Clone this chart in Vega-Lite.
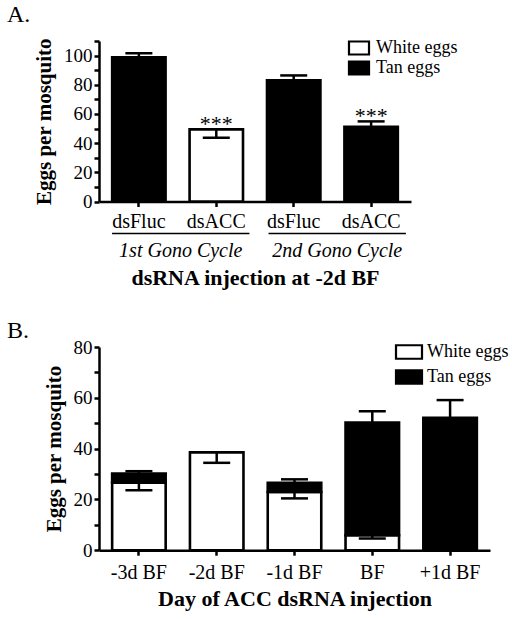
{
  "$schema": "https://vega.github.io/schema/vega-lite/v6.json",
  "padding": {"left": 7, "top": 3, "right": 5, "bottom": 5},
  "background": "white",
  "config": {
    "font": "Liberation Serif",
    "view": {"stroke": null},
    "axis": {"domainColor": "black", "domainWidth": 2.5, "tickColor": "black", "tickWidth": 2.5, "labelColor": "black", "titleColor": "black", "labelFont": "Liberation Serif", "titleFont": "Liberation Serif", "grid": false, "titleFontWeight": "bold", "labelOverlap": false},
    "axisX": {"labelAngle": 0, "tickSize": 5, "labelFontSize": 20, "titleFontSize": 22},
    "axisY": {"tickSize": 5, "labelPadding": 2, "labelFontSize": 19, "titleFontSize": 21, "titlePadding": 9, "labelExpr": "datum.value % 20 == 0 ? datum.label : ''"},
    "title": {"font": "Liberation Serif", "fontSize": 24, "fontWeight": "normal", "color": "black", "anchor": "start", "frame": "group", "dx": -92, "baseline": "alphabetic"}
  },
  "datasets": {
    "barsA": [
      {"group": "dsFluc 1", "type": "Tan eggs", "eggs": 98.8},
      {"group": "dsACC 1", "type": "White eggs", "eggs": 49.4},
      {"group": "dsFluc 2", "type": "Tan eggs", "eggs": 83.0},
      {"group": "dsACC 2", "type": "Tan eggs", "eggs": 51.2}
    ],
    "errA": [
      {"group": "dsFluc 1", "mean": 98.8, "bound": 101.6},
      {"group": "dsACC 1", "mean": 49.4, "bound": 43.7},
      {"group": "dsFluc 2", "mean": 83.0, "bound": 86.4},
      {"group": "dsACC 2", "mean": 51.2, "bound": 54.9}
    ],
    "starsA": [
      {"group": "dsACC 1", "label": "***", "y": 49.4},
      {"group": "dsACC 2", "label": "***", "y": 54.9}
    ],
    "cyclesA": [
      {"cycle": "1st Gono Cycle"},
      {"cycle": "2nd Gono Cycle"}
    ],
    "barsB": [
      {"day": "-3d BF", "type": "White eggs", "eggs": 26.6},
      {"day": "-3d BF", "type": "Tan eggs", "eggs": 3.6},
      {"day": "-2d BF", "type": "White eggs", "eggs": 38.5},
      {"day": "-1d BF", "type": "White eggs", "eggs": 22.9},
      {"day": "-1d BF", "type": "Tan eggs", "eggs": 3.6},
      {"day": "BF", "type": "White eggs", "eggs": 5.9},
      {"day": "BF", "type": "Tan eggs", "eggs": 44.4},
      {"day": "+1d BF", "type": "Tan eggs", "eggs": 52.1}
    ],
    "errB": [
      {"day": "-3d BF", "mean": 26.6, "bound": 23.6},
      {"day": "-3d BF", "mean": 30.2, "bound": 31.1},
      {"day": "-2d BF", "mean": 38.5, "bound": 34.4},
      {"day": "-1d BF", "mean": 22.9, "bound": 20.4},
      {"day": "-1d BF", "mean": 26.5, "bound": 27.9},
      {"day": "BF", "mean": 5.9, "bound": 4.6},
      {"day": "BF", "mean": 50.3, "bound": 54.7},
      {"day": "+1d BF", "mean": 52.1, "bound": 59.1}
    ]
  },
  "spacing": 30,
  "resolve": {"scale": {"color": "independent"}, "legend": {"color": "independent"}},
  "vconcat": [
    {
      "width": 312,
      "height": 160.5,
      "title": {"text": "A.", "offset": 5},
      "resolve": {"scale": {"x": "independent"}},
      "layer": [
        {
          "layer": [
            {
              "data": {"name": "barsA"},
              "mark": {"type": "bar", "stroke": "black", "strokeWidth": 2.6},
              "encoding": {
                "x": {"field": "group", "type": "nominal", "title": "dsRNA injection at -2d BF",
                  "scale": {"domain": ["dsFluc 1", "dsACC 1", "dsFluc 2", "dsACC 2"], "paddingInner": 0.31, "paddingOuter": 0.17},
                  "axis": {"labelExpr": "split(datum.label, ' ')[0]", "labelPadding": 5, "titlePadding": 36}},
                "y": {"field": "eggs", "type": "quantitative", "stack": "zero", "title": "Eggs per mosquito",
                  "scale": {"domain": [0, 110], "nice": false},
                  "axis": {"values": [0, 10, 20, 30, 40, 50, 60, 70, 80, 90, 100, 110]}},
                "color": {"field": "type", "type": "nominal",
                  "scale": {"domain": ["White eggs", "Tan eggs"], "range": ["white", "black"]},
                  "legend": {"orient": "none", "legendX": 251, "legendY": -2, "title": null, "padding": 0,
                    "symbolType": "M-1.54,-1H1.54V1H-1.54Z", "symbolSize": 169, "symbolStrokeColor": "black", "symbolStrokeWidth": 2.2,
                    "labelFont": "Liberation Serif", "labelFontSize": 18, "labelColor": "black", "labelOffset": 8, "rowPadding": -5.4}},
                "order": {"field": "type", "sort": "descending"}
              }
            },
            {
              "data": {"name": "errA"},
              "mark": {"type": "rule", "color": "black", "strokeWidth": 2.5},
              "encoding": {
                "x": {"field": "group", "type": "nominal", "title": "dsRNA injection at -2d BF"},
                "y": {"field": "mean", "type": "quantitative", "title": "Eggs per mosquito", "axis": {"values": [0, 10, 20, 30, 40, 50, 60, 70, 80, 90, 100, 110]}},
                "y2": {"field": "bound"}
              }
            },
            {
              "data": {"name": "errA"},
              "mark": {"type": "tick", "color": "black", "opacity": 1, "size": 27, "thickness": 2.5},
              "encoding": {
                "x": {"field": "group", "type": "nominal", "title": "dsRNA injection at -2d BF"},
                "y": {"field": "bound", "type": "quantitative", "title": "Eggs per mosquito", "axis": {"values": [0, 10, 20, 30, 40, 50, 60, 70, 80, 90, 100, 110]}}
              }
            },
            {
              "data": {"name": "starsA"},
              "mark": {"type": "text", "font": "Liberation Serif", "fontSize": 22, "baseline": "alphabetic", "dy": 2, "color": "black"},
              "encoding": {
                "x": {"field": "group", "type": "nominal", "title": "dsRNA injection at -2d BF"},
                "y": {"field": "y", "type": "quantitative", "title": "Eggs per mosquito", "axis": {"values": [0, 10, 20, 30, 40, 50, 60, 70, 80, 90, 100, 110]}},
                "text": {"field": "label"}
              }
            }
          ]
        },
        {
          "data": {"name": "cyclesA"},
          "layer": [
            {
              "mark": {"type": "bar", "color": "black"},
              "encoding": {
                "x": {"field": "cycle", "type": "nominal", "axis": null,
                  "scale": {"paddingInner": 0.122, "paddingOuter": 0.058, "align": 0.72}},
                "y": {"datum": -21.4, "type": "quantitative", "title": "Eggs per mosquito", "axis": {"values": [0, 10, 20, 30, 40, 50, 60, 70, 80, 90, 100, 110]}},
                "y2": {"datum": -22.5}
              }
            },
            {
              "mark": {"type": "text", "font": "Liberation Serif", "fontSize": 20, "fontStyle": "italic", "baseline": "alphabetic", "color": "black"},
              "encoding": {
                "x": {"field": "cycle", "type": "nominal", "axis": null},
                "y": {"datum": -38, "type": "quantitative", "title": "Eggs per mosquito", "axis": {"values": [0, 10, 20, 30, 40, 50, 60, 70, 80, 90, 100, 110]}},
                "text": {"field": "cycle"}
              }
            }
          ]
        }
      ]
    },
    {
      "width": 391,
      "height": 203.2,
      "title": {"text": "B.", "offset": -5},
      "layer": [
        {
          "data": {"name": "barsB"},
          "mark": {"type": "bar", "stroke": "black", "strokeWidth": 2.6},
          "encoding": {
            "x": {"field": "day", "type": "nominal", "title": "Day of ACC dsRNA injection",
              "scale": {"domain": ["-3d BF", "-2d BF", "-1d BF", "BF", "+1d BF"], "paddingInner": 0.312, "paddingOuter": 0.169},
              "axis": {"labelPadding": 7.5, "titlePadding": 6}},
            "y": {"field": "eggs", "type": "quantitative", "stack": "zero", "title": "Eggs per mosquito",
              "scale": {"domain": [0, 80], "nice": false},
              "axis": {"values": [0, 10, 20, 30, 40, 50, 60, 70, 80]}},
            "color": {"field": "type", "type": "nominal",
              "scale": {"domain": ["White eggs", "Tan eggs"], "range": ["white", "black"]},
              "legend": {"orient": "none", "legendX": 301, "legendY": -4, "title": null, "padding": 0,
                "symbolType": "M-2,-1.04H2V1.04H-2Z", "symbolSize": 169, "symbolStrokeColor": "black", "symbolStrokeWidth": 2.2,
                "labelFont": "Liberation Serif", "labelFontSize": 18, "labelColor": "black", "labelOffset": 9, "rowPadding": 1}},
            "order": {"field": "type", "sort": "descending"}
          }
        },
        {
          "data": {"name": "errB"},
          "mark": {"type": "rule", "color": "black", "strokeWidth": 2.5},
          "encoding": {
            "x": {"field": "day", "type": "nominal", "title": "Day of ACC dsRNA injection"},
            "y": {"field": "mean", "type": "quantitative", "title": "Eggs per mosquito", "axis": {"values": [0, 10, 20, 30, 40, 50, 60, 70, 80]}},
            "y2": {"field": "bound"}
          }
        },
        {
          "data": {"name": "errB"},
          "mark": {"type": "tick", "color": "black", "opacity": 1, "size": 27, "thickness": 2.5},
          "encoding": {
            "x": {"field": "day", "type": "nominal", "title": "Day of ACC dsRNA injection"},
            "y": {"field": "bound", "type": "quantitative", "title": "Eggs per mosquito", "axis": {"values": [0, 10, 20, 30, 40, 50, 60, 70, 80]}}
          }
        }
      ]
    }
  ]
}
